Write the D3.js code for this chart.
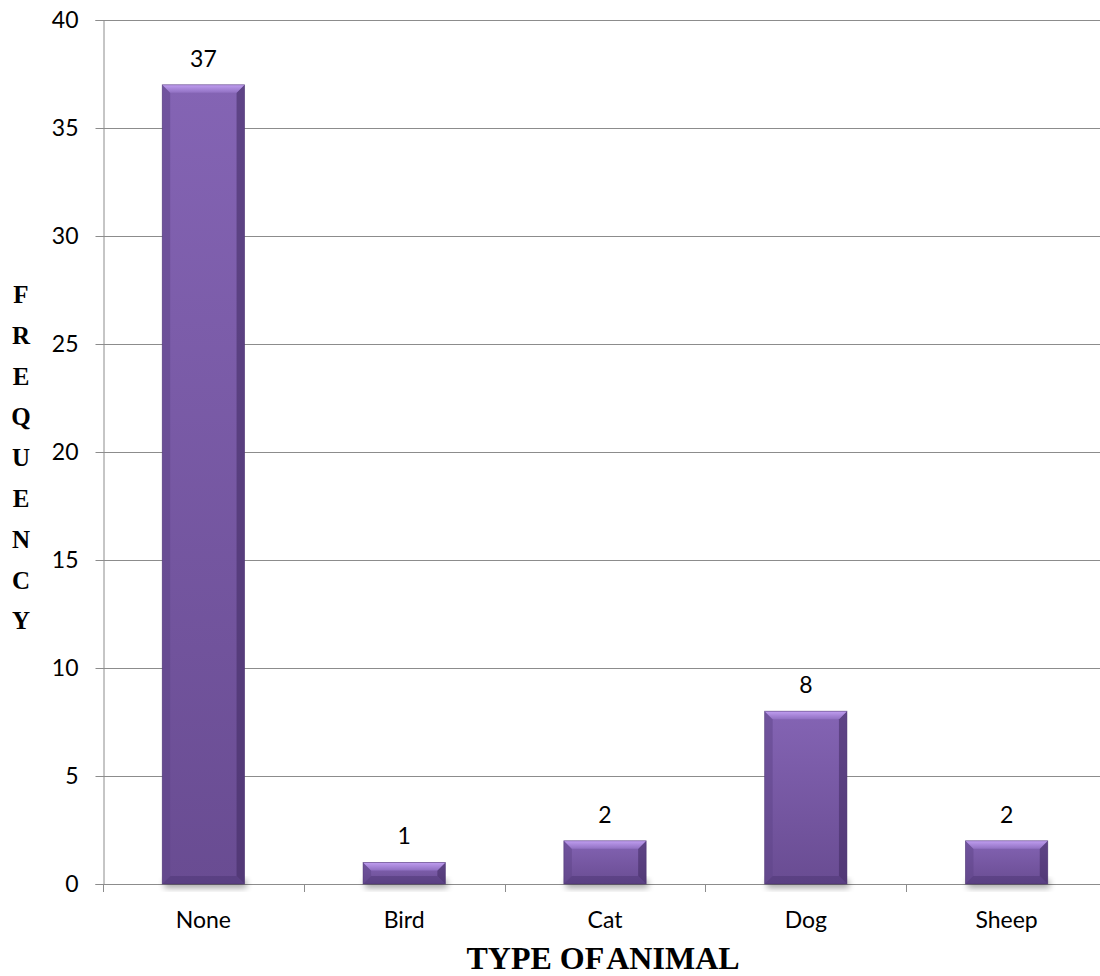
<!DOCTYPE html>
<html>
<head>
<meta charset="utf-8">
<script src="https://cdn.jsdelivr.net/npm/d3@7"></script>
<style>
  html, body { margin: 0; padding: 0; background: #fff; }
  svg { display: block; }
</style>
</head>
<body>
<svg id="chart" width="1100" height="976"></svg>
<script>
// Animal ownership counts
const categories = ["None", "Bird", "Cat", "Dog", "Sheep"];
const frequencies = [37, 1, 2, 8, 2];
const yTicks = [0, 5, 10, 15, 20, 25, 30, 35, 40];
const yTitleLetters = ["F", "R", "E", "Q", "U", "E", "N", "C", "Y"];
const xTitleParts = ["TYPE OF", " ANIMAL"];

const W = 1100, H = 976;
const plot = { left: 103, right: 1107, top: 20, bottom: 884 };
const gridColor = "#8c8c8c";
const tickFont = "Lato, 'Open Sans', 'Liberation Sans', sans-serif";
const titleFont = "'Liberation Serif', 'Times New Roman', serif";
const tickSize = 23;

const svg = d3.select("#chart");

const x = d3.scaleBand().domain(categories).range([plot.left, plot.right]).padding(0);
const y = d3.scaleLinear().domain([0, 40]).range([plot.bottom, plot.top]);

const defs = svg.append("defs");
const face = defs.append("linearGradient").attr("id", "face").attr("x1", 0).attr("y1", 0).attr("x2", 0).attr("y2", 1);
face.append("stop").attr("offset", "0%").attr("stop-color", "#8464b4");
face.append("stop").attr("offset", "100%").attr("stop-color", "#694c92");
const topBevel = defs.append("linearGradient").attr("id", "topBevel").attr("x1", 0).attr("y1", 0).attr("x2", 0).attr("y2", 1);
topBevel.append("stop").attr("offset", "0%").attr("stop-color", "#c09ef0");
topBevel.append("stop").attr("offset", "100%").attr("stop-color", "#9070c2");
const shadow = defs.append("filter").attr("id", "shadow").attr("x", "-20%").attr("y", "-50%").attr("width", "140%").attr("height", "200%");
shadow.append("feGaussianBlur").attr("stdDeviation", 3);

// Gridlines
svg.append("g")
  .selectAll("line")
  .data(yTicks.filter(t => t > 0))
  .join("line")
  .attr("x1", plot.left).attr("x2", W)
  .attr("y1", d => Math.round(y(d)) + 0.5).attr("y2", d => Math.round(y(d)) + 0.5)
  .attr("stroke", gridColor).attr("stroke-width", 1);

// Y axis
const yAxis = svg.append("g")
  .attr("transform", `translate(${plot.left + 0.5},0)`)
  .call(d3.axisLeft(y).tickValues(yTicks).tickSize(8).tickPadding(17));
yAxis.select(".domain").attr("stroke", gridColor);
yAxis.selectAll(".tick line").attr("stroke", gridColor);
yAxis.selectAll(".tick text")
  .attr("font-family", tickFont).attr("font-size", tickSize).attr("fill", "#000");

// X axis: ticks on category boundaries
svg.append("line")
  .attr("x1", plot.left).attr("x2", W)
  .attr("y1", plot.bottom + 0.5).attr("y2", plot.bottom + 0.5)
  .attr("stroke", gridColor).attr("stroke-width", 1);
svg.append("g")
  .selectAll("line")
  .data(categories)
  .join("line")
  .attr("x1", d => Math.round(x(d)) + 0.5).attr("x2", d => Math.round(x(d)) + 0.5)
  .attr("y1", plot.bottom).attr("y2", plot.bottom + 8)
  .attr("stroke", gridColor);
svg.append("g")
  .selectAll("text")
  .data(categories)
  .join("text")
  .attr("x", d => x(d) + x.bandwidth() / 2)
  .attr("y", plot.bottom + 44)
  .attr("text-anchor", "middle")
  .attr("font-family", tickFont).attr("font-size", tickSize)
  .text(d => d);

// Bars with bevel
const barFrac = 0.41;
const bev = 8;
svg.append("g").selectAll("g")
  .data(categories.map((c, i) => ({ c, v: frequencies[i] })))
  .join("g")
  .each(function (d) {
    const g = d3.select(this);
    const bw = x.bandwidth() * barFrac;
    const x0 = x(d.c) + (x.bandwidth() - bw) / 2, x1 = x0 + bw;
    const y0 = y(d.v), y1 = y(0);
    const b = Math.min(bev, (y1 - y0) / 2);
    g.append("rect")
      .attr("x", x0 + 2).attr("y", y1 - 4).attr("width", bw).attr("height", 8)
      .attr("fill", "#000").attr("opacity", 0.35).attr("filter", "url(#shadow)");
    g.append("rect")
      .attr("x", x0).attr("y", y0).attr("width", bw).attr("height", y1 - y0)
      .attr("fill", "url(#face)");
    // left and right bevels
    g.append("polygon")
      .attr("points", [[x0, y0], [x0 + b, y0 + b], [x0 + b, y1 - b], [x0, y1]].join(" "))
      .attr("fill", "#5e4387").attr("opacity", 0.5);
    g.append("polygon")
      .attr("points", [[x1, y0], [x1 - b, y0 + b], [x1 - b, y1 - b], [x1, y1]].join(" "))
      .attr("fill", "#3f2a60").attr("opacity", 0.55);
    // bottom bevel
    g.append("polygon")
      .attr("points", [[x0, y1], [x0 + b, y1 - b], [x1 - b, y1 - b], [x1, y1]].join(" "))
      .attr("fill", "#4a3270").attr("opacity", 0.45);
    // top bevel
    g.append("polygon")
      .attr("points", [[x0, y0], [x1, y0], [x1 - b, y0 + b], [x0 + b, y0 + b]].join(" "))
      .attr("fill", "url(#topBevel)");
    g.append("rect")
      .attr("x", x0).attr("y", y0).attr("width", bw).attr("height", y1 - y0)
      .attr("fill", "none").attr("stroke", "#4b3470").attr("stroke-width", 0.8).attr("opacity", 0.6);
    g.append("text")
      .attr("x", (x0 + x1) / 2).attr("y", y0 - 18)
      .attr("text-anchor", "middle")
      .attr("font-family", tickFont).attr("font-size", tickSize)
      .text(d.v);
  });

// Axis titles
svg.append("g")
  .selectAll("text")
  .data(yTitleLetters)
  .join("text")
  .attr("x", 21)
  .attr("y", (d, i) => 303 + i * 40.8)
  .attr("text-anchor", "middle")
  .attr("font-family", titleFont).attr("font-weight", "bold").attr("font-size", 25)
  .text(d => d);

const xt = svg.append("text")
  .attr("x", 603).attr("y", 969)
  .attr("text-anchor", "middle")
  .attr("font-family", titleFont).attr("font-weight", "bold").attr("font-size", 32)
  .style("white-space", "pre");
xt.append("tspan").text(xTitleParts[0]);
xt.append("tspan").attr("dx", -3).text(xTitleParts[1]);
</script>
</body>
</html>
